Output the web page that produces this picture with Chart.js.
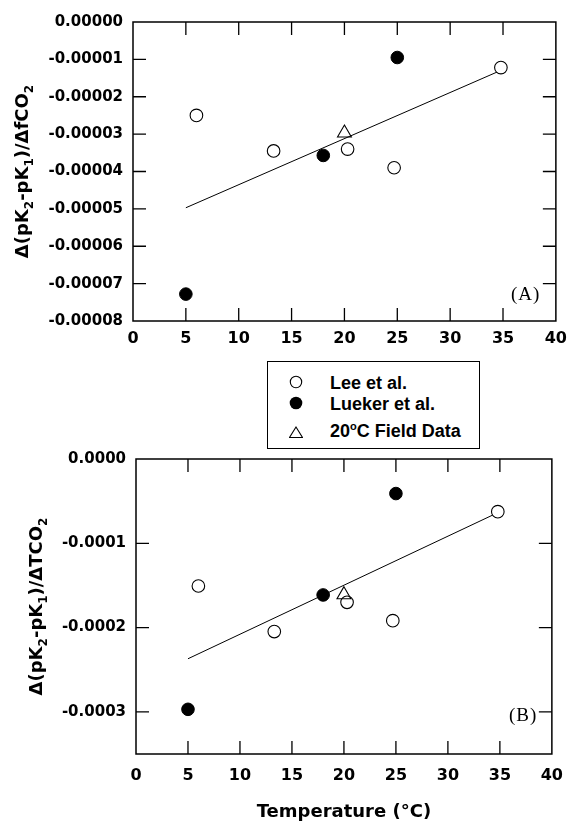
<!DOCTYPE html>
<html>
<head>
<meta charset="utf-8">
<script src="https://cdn.jsdelivr.net/npm/chart.js@4/dist/chart.umd.min.js"></script>
<style>
  html, body { margin: 0; padding: 0; background: #fff; }
  #wrap { position: relative; width: 575px; height: 823px; overflow: hidden; background: #fff; }
  canvas { position: absolute; left: 0; }
  #cA { top: 0; }
  #cB { top: 440px; }
  .plab { position: absolute; font-family: "Liberation Serif", "Times New Roman", serif; font-size: 19px; line-height: 18px; color: #000; letter-spacing: 1px; white-space: nowrap; }
  #legend { position: absolute; left: 267px; top: 361px; width: 213px; height: 88px; box-sizing: border-box; border: 1px solid #000; background: #fff; z-index: 5; }
  #legend .txt { position: absolute; left: 62px; font-family: "Liberation Sans", Arial, sans-serif; font-weight: bold; font-size: 18px; line-height: 20px; color: #000; white-space: nowrap; }
  #legend svg { position: absolute; }
  #legend sup { font-size: 11px; position: relative; top: -7px; vertical-align: baseline; line-height: 0; }
</style>
</head>
<body>
<div id="wrap">
  <canvas id="cA" width="575" height="360"></canvas>
  <canvas id="cB" width="575" height="383"></canvas>
  <div class="plab" style="left:511px; top:285px;">(A)</div>
  <div class="plab" style="left:509px; top:706px;">(B)</div>
  <div id="legend"></div>
</div>
<script>
// ---------- data ----------
const seriesNames = ['Lee et al.', 'Lueker et al.', '20°C Field Data'];

const xTicks = [0, 5, 10, 15, 20, 25, 30, 35, 40];
const xTickLabels = ['0', '5', '10', '15', '20', '25', '30', '35', '40'];

// Panel A: Δ(pK2-pK1)/ΔfCO2   (title pieces: [text, isSubscript])
const yTitleA = [['Δ(pK', 0], ['2', 1], ['-pK', 0], ['1', 1], [')/ΔfCO', 0], ['2', 1]];
const yTicksA = [0, -0.00001, -0.00002, -0.00003, -0.00004, -0.00005, -0.00006, -0.00007, -0.00008];
const yTickLabelsA = ['0.00000', '-0.00001', '-0.00002', '-0.00003', '-0.00004', '-0.00005', '-0.00006', '-0.00007', '-0.00008'];
const leeTempA = [6.0, 13.3, 20.3, 24.7, 34.8];
const leeA = [-0.0000250, -0.0000345, -0.0000340, -0.0000390, -0.0000122];
const luekerTempA = [5.0, 18.0, 25.0];
const luekerA = [-0.0000728, -0.0000357, -0.0000095];
const fieldTempA = [20.0];
const fieldA = [-0.0000297];
const fitTempA = [5, 35];
const fitA = [-0.0000497, -0.0000127];

// Panel B: Δ(pK2-pK1)/ΔTCO2
const yTitleB = [['Δ(pK', 0], ['2', 1], ['-pK', 0], ['1', 1], [')/ΔTCO', 0], ['2', 1]];
const xTitleB = 'Temperature (°C)';
const yTicksB = [0, -0.0001, -0.0002, -0.0003];
const yTickLabelsB = ['0.0000', '-0.0001', '-0.0002', '-0.0003'];
const leeTempB = [6.0, 13.3, 20.3, 24.7, 34.8];
const leeB = [-0.0001507, -0.0002047, -0.0001700, -0.0001918, -0.0000625];
const luekerTempB = [5.0, 18.0, 25.0];
const luekerB = [-0.0002970, -0.0001613, -0.0000410];
const fieldTempB = [20.0];
const fieldB = [-0.0001610];
const fitTempB = [5, 35];
const fitB = [-0.0002370, -0.0000625];

// ---------- helpers ----------
Chart.defaults.font.family = '"DejaVu Sans", sans-serif';
Chart.defaults.font.weight = 'bold';
Chart.defaults.color = '#000';

const pts = (xs, ys) => xs.map((x, i) => ({ x: x, y: ys[i] }));

const framePlugin = {
  id: 'frame',
  afterDraw(chart, args, opts) {
    const { ctx, chartArea: a } = chart;
    const sx = chart.scales.x, sy = chart.scales.y;
    const L = 13;
    ctx.save();
    ctx.strokeStyle = '#000';
    ctx.lineWidth = 1.5;
    ctx.strokeRect(a.left, a.top, a.right - a.left, a.bottom - a.top);
    ctx.lineWidth = 1.3;
    ctx.beginPath();
    sx.ticks.forEach(t => {
      const p = sx.getPixelForValue(t.value);
      if (p <= a.left + 1 || p >= a.right - 1) return;
      ctx.moveTo(p, a.bottom); ctx.lineTo(p, a.bottom - L);
      ctx.moveTo(p, a.top); ctx.lineTo(p, a.top + L);
    });
    sy.ticks.forEach(t => {
      const p = sy.getPixelForValue(t.value);
      if (p <= a.top + 1 || p >= a.bottom - 1) return;
      ctx.moveTo(a.left, p); ctx.lineTo(a.left + L, p);
      ctx.moveTo(a.right, p); ctx.lineTo(a.right - L, p);
    });
    ctx.stroke();

    // rotated y-axis title with real subscripts
    const parts = opts.title;
    if (parts) {
      const mainF = 'bold 18px "DejaVu Sans", sans-serif';
      const subF = 'bold 12px "DejaVu Sans", sans-serif';
      let total = 0;
      parts.forEach(p => { ctx.font = p[1] ? subF : mainF; total += ctx.measureText(p[0]).width; });
      const cy = (a.top + a.bottom) / 2;
      ctx.translate(opts.titleX, cy);
      ctx.rotate(-Math.PI / 2);
      ctx.fillStyle = '#000';
      ctx.textBaseline = 'middle';
      ctx.textAlign = 'left';
      let x = -total / 2;
      parts.forEach(p => {
        ctx.font = p[1] ? subF : mainF;
        ctx.fillText(p[0], x, p[1] ? 7 : 0);
        x += ctx.measureText(p[0]).width;
      });
    }
    ctx.restore();
  }
};

const tickFont = { family: '"DejaVu Sans", sans-serif', weight: 'bold', size: 15 };
const xTickFont = { family: '"DejaVu Sans", sans-serif', weight: 'bold', size: 16 };

function datasets(leeT, lee, luT, lu, fT, f, fitT, fit) {
  return [
    { label: 'fit', data: pts(fitT, fit), showLine: true, borderColor: '#000', borderWidth: 1,
      pointRadius: 0, fill: false, order: 10 },
    { label: seriesNames[0], data: pts(leeT, lee), pointStyle: 'circle', pointRadius: 6.3,
      backgroundColor: '#fff', borderColor: '#000', borderWidth: 1.1, order: 1 },
    { label: seriesNames[1], data: pts(luT, lu), pointStyle: 'circle', pointRadius: 6.3,
      backgroundColor: '#000', borderColor: '#000', borderWidth: 1, order: 1 },
    { label: seriesNames[2], data: pts(fT, f), pointStyle: 'triangle', pointRadius: 8,
      backgroundColor: 'rgba(255,255,255,0)', borderColor: '#000', borderWidth: 1.1, order: 0 }
  ];
}

function makeChart(id, ds, o) {
  return new Chart(document.getElementById(id), {
    type: 'scatter',
    data: { datasets: ds },
    options: {
      responsive: false,
      animation: false,
      devicePixelRatio: 1,
      layout: { padding: { top: o.padTop, right: o.padRight, left: 0, bottom: 0 } },
      plugins: { legend: { display: false }, tooltip: { enabled: false },
                 frame: { title: o.yTitle, titleX: o.yTitleX } },
      scales: {
        x: {
          type: 'linear', min: 0, max: 40,
          afterBuildTicks: s => { s.ticks = xTicks.map(v => ({ value: v })); },
          afterFit: s => { s.height = o.xHeight; },
          grid: { display: false, drawTicks: false },
          border: { display: false },
          ticks: { autoSkip: false, maxRotation: 0, padding: o.xPad, color: '#000', font: xTickFont,
                   callback: (v, i) => xTickLabels[i] },
          title: o.xTitle ? { display: true, text: o.xTitle, color: '#000',
                   font: { family: '"DejaVu Sans", sans-serif', weight: 'bold', size: 18 }, padding: { top: 0, bottom: 0 } }
                 : { display: false }
        },
        y: {
          type: 'linear', min: o.yMin, max: 0,
          afterBuildTicks: s => { s.ticks = o.yTicks.map(v => ({ value: v })); },
          afterFit: s => { s.width = o.yWidth; },
          grid: { display: false, drawTicks: false },
          border: { display: false },
          ticks: { autoSkip: false, padding: 10, color: '#000', font: tickFont,
                   callback: (v, i) => o.yLabels[i] },
          title: { display: false }
        }
      }
    },
    plugins: [framePlugin]
  });
}

makeChart('cA', datasets(leeTempA, leeA, luekerTempA, luekerA, fieldTempA, fieldA, fitTempA, fitA), {
  padTop: 22, padRight: 14, xHeight: 39, xPad: 8, yWidth: 133, yMin: -0.00008,
  yTicks: yTicksA, yLabels: yTickLabelsA, yTitle: yTitleA, yTitleX: 23, xTitle: null
});

makeChart('cB', datasets(leeTempB, leeB, luekerTempB, luekerB, fieldTempB, fieldB, fitTempB, fitB), {
  padTop: 16, padRight: 12, xHeight: 69, xPad: 12, yWidth: 136, yMin: -0.00035,
  yTicks: yTicksB, yLabels: yTickLabelsB, yTitle: yTitleB, yTitleX: 37,
  xTitle: xTitleB
});

// ---------- legend (HTML) ----------
(function () {
  const lg = document.getElementById('legend');
  const rows = [
    { sym: '<circle cx="7" cy="7" r="5.7" fill="#fff" stroke="#000" stroke-width="1.1"/>', symTop: 13, txtTop: 11,
      text: 'Lee et al.' },
    { sym: '<circle cx="7" cy="7" r="6.3" fill="#000"/>', symTop: 34, txtTop: 32, text: 'Lueker et al.' },
    { sym: '<polygon points="7,2 13.5,12.5 0.5,12.5" fill="none" stroke="#000" stroke-width="1.1"/>', symTop: 63, txtTop: 59,
      text: '20<sup>o</sup>C Field Data' }
  ];
  rows.forEach(r => {
    const s = document.createElementNS('http://www.w3.org/2000/svg', 'svg');
    s.setAttribute('width', '14'); s.setAttribute('height', '14');
    s.style.left = '21px'; s.style.top = r.symTop + 'px';
    s.innerHTML = r.sym;
    lg.appendChild(s);
    const t = document.createElement('div');
    t.className = 'txt';
    t.style.top = r.txtTop + 'px';
    t.innerHTML = r.text;
    lg.appendChild(t);
  });
})();
</script>
</body>
</html>
